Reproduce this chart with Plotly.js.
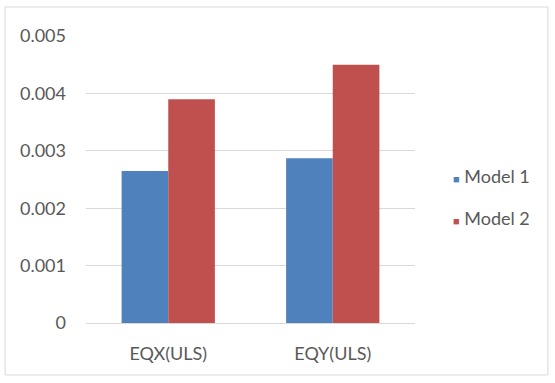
<!DOCTYPE html>
<html>
<head>
<script src="https://cdn.plot.ly/plotly-3.0.1.min.js"></script>
<style>body{margin:0;background:#fff}#chart{width:555px;height:383px}</style>
</head>
<body>
<div id="chart"></div>
<script>
const categories = ["EQX(ULS)", "EQY(ULS)"];
const model1 = [0.00265, 0.00287];
const model2 = [0.0039, 0.0045];
const seriesNames = ["Model 1", "Model 2"];
const seriesColors = ["#4f81bd", "#c0504d"];
const tickVals = [0, 0.001, 0.002, 0.003, 0.004, 0.005];
const tickText = ["0", "0.001", "0.002", "0.003", "0.004", "0.005"];

const font = {family: "Lato, 'Liberation Sans', sans-serif", size: 18, color: "#595959"};
const traces = [
  {type: "bar", name: seriesNames[0], x: categories, y: model1, marker: {color: seriesColors[0]}, showlegend: false},
  {type: "bar", name: seriesNames[1], x: categories, y: model2, marker: {color: seriesColors[1]}, showlegend: false}
];
const legendY = [0.512, 0.366];
const annotations = seriesNames.map((n, i) => ({
  xref: "paper", yref: "paper", x: 1.11, y: legendY[i], xanchor: "left", yanchor: "middle",
  showarrow: false, font: font,
  text: `<span style="color:${seriesColors[i]};font-size:11px">■</span> ${n}`
}));
const layout = {
  width: 555, height: 383,
  margin: {l: 86, r: 140, t: 36, b: 60},
  paper_bgcolor: "#fff", plot_bgcolor: "#fff",
  barmode: "group", bargap: 0.433, bargroupgap: 0,
  font: font,
  showlegend: false,
  annotations: annotations,
  xaxis: {showgrid: false, showline: true, linecolor: "#d9d9d9", linewidth: 1, ticks: "", tickfont: font, ticklabelstandoff: 14, fixedrange: true},
  yaxis: {range: [0, 0.005], tickvals: tickVals, ticktext: tickText, showgrid: true, gridcolor: "#d9d9d9", gridwidth: 1, zeroline: false, showline: false, ticks: "", ticklabelstandoff: 19, tickfont: font, fixedrange: true},
  shapes: [{type: "rect", xref: "paper", yref: "paper", x0: -0.246, x1: 1.404, y0: -0.181, y1: 1.101, line: {color: "#d9d9d9", width: 1}}]
};
Plotly.newPlot("chart", traces, layout, {displayModeBar: false, staticPlot: true});
</script>
</body>
</html>
